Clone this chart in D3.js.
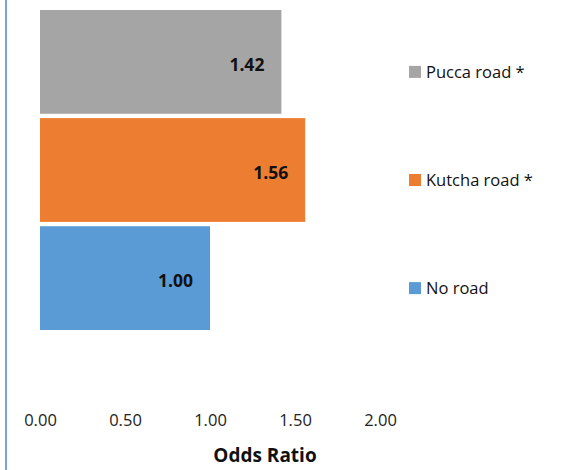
<!DOCTYPE html>
<html>
<head>
<meta charset="utf-8">
<style>
body { margin: 0; background: #fff; }
text { font-family: "Open Sans", "Noto Sans", sans-serif; }
</style>
</head>
<body>
<svg width="563" height="470"></svg>
<script src="https://d3js.org/d3.v7.min.js"></script>
<script>
var categories = ["Pucca road *", "Kutcha road *", "No road"];
var oddsRatios = [1.42, 1.56, 1.00];
var barColors = ["#a5a5a5", "#ed7d31", "#5b9bd5"];
var tickValues = [0, 0.5, 1, 1.5, 2];

var svg = d3.select("svg");

// left border line of the figure
svg.append("line")
    .attr("x1", 6).attr("x2", 6)
    .attr("y1", 0).attr("y2", 470)
    .attr("stroke", "#76a5d8")
    .attr("stroke-width", 2);

var x = d3.scaleLinear()
    .domain([0, 2])
    .range([40, 380]);

var y = d3.scaleBand()
    .domain(categories)
    .range([10, 330])
    .paddingInner(0.04);

var data = categories.map(function(c, i) {
  return { name: c, value: oddsRatios[i], color: barColors[i] };
});

svg.append("g")
  .selectAll("rect")
  .data(data)
  .enter().append("rect")
    .attr("x", x(0))
    .attr("y", function(d) { return y(d.name); })
    .attr("width", function(d) { return x(d.value) - x(0); })
    .attr("height", y.bandwidth())
    .attr("fill", function(d) { return d.color; });

svg.append("g")
  .selectAll("text")
  .data(data)
  .enter().append("text")
    .attr("x", function(d) { return x(d.value) - 17; })
    .attr("y", function(d) { return y(d.name) + y.bandwidth() / 2 + 3; })
    .attr("dy", "0.35em")
    .attr("text-anchor", "end")
    .attr("font-size", 17.5)
    .attr("font-weight", "bold")
    .attr("fill", "#111")
    .text(function(d) { return d3.format(".2f")(d.value); });

var axis = svg.append("g")
    .attr("transform", "translate(0,414)")
    .call(d3.axisBottom(x)
      .tickValues(tickValues)
      .tickSize(0)
      .tickPadding(0)
      .tickFormat(d3.format(".2f")));
axis.select(".domain").remove();
axis.selectAll("text")
    .attr("font-size", 16.5)
    .attr("fill", "#222")
    .style("font-family", "\"Open Sans\", sans-serif");

svg.append("text")
    .attr("x", 265)
    .attr("y", 462)
    .attr("text-anchor", "middle")
    .attr("font-size", 19)
    .attr("font-weight", "bold")
    .attr("fill", "#111")
    .text("Odds Ratio");

var legend = svg.append("g")
  .selectAll("g")
  .data(data)
  .enter().append("g")
    .attr("transform", function(d) {
      return "translate(409," + (y(d.name) + y.bandwidth() / 2 + 10) + ")";
    });

legend.append("rect")
    .attr("x", 0)
    .attr("y", -6)
    .attr("width", 12)
    .attr("height", 12)
    .attr("fill", function(d) { return d.color; });

legend.append("text")
    .attr("x", 17)
    .attr("dy", "0.35em")
    .attr("font-size", 16.5)
    .attr("fill", "#111")
    .text(function(d) { return d.name; });
</script>
</body>
</html>
